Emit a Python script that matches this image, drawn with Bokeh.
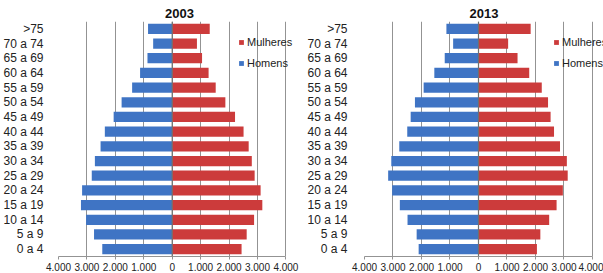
from bokeh.plotting import figure
from bokeh.layouts import row
from bokeh.models import (FactorRange, Range1d, FixedTicker, Span, Legend, LegendItem,
                          ColumnDataSource)
from bokeh.embed import file_html
from bokeh.resources import INLINE

ages = ["0 a 4", "5 a 9", "10 a 14", "15 a 19", "20 a 24", "25 a 29", "30 a 34",
        "35 a 39", "40 a 44", "45 a 49", "50 a 54", "55 a 59", "60 a 64",
        "65 a 69", "70 a 74", ">75"]

homens_2003 = [2460, 2750, 3030, 3210, 3170, 2830, 2720, 2520, 2370, 2060, 1780,
               1410, 1130, 870, 670, 850]
mulheres_2003 = [2440, 2620, 2880, 3170, 3110, 2900, 2800, 2690, 2510, 2210, 1870,
                 1530, 1280, 1050, 870, 1320]

homens_2013 = [2100, 2170, 2490, 2760, 3030, 3170, 3060, 2780, 2500, 2380, 2230,
               1925, 1550, 1185, 890, 1126]
mulheres_2013 = [2050, 2170, 2480, 2740, 2960, 3130, 3100, 2860, 2650, 2530, 2440,
                 2220, 1780, 1370, 1040, 1830]

tick_values = [-4000, -3000, -2000, -1000, 0, 1000, 2000, 3000, 4000]
tick_labels = ["4.000", "3.000", "2.000", "1.000", "0", "1.000", "2.000", "3.000", "4.000"]

BLUE = "#3f74c4"
RED = "#cc3b3b"
GRID = "#939393"
FONT = "Liberation Sans"


def pyramid(title, homens, mulheres, width, border_left, x_end, ylab_standoff,
            legend_x, title_offset):
    src = ColumnDataSource(dict(age=ages,
                                h=[-v for v in homens],
                                m=mulheres,
                                z=[0] * len(ages)))
    p = figure(width=width, height=273, y_range=FactorRange(factors=ages, range_padding=0),
               x_range=Range1d(-4000, x_end), output_backend="svg",
               toolbar_location=None, min_border_left=border_left,
               min_border_right=0, min_border_top=21, min_border_bottom=17)
    p.title.text = title
    p.title.align = "center"
    p.title.text_font = FONT
    p.title.text_font_size = "13px"
    p.title.text_font_style = "bold"
    p.title.text_color = "#111111"
    p.title.standoff = 7
    p.title.offset = title_offset
    p.outline_line_color = None
    p.background_fill_color = "white"

    rh = p.hbar(y="age", left="h", right="z", height=0.7, source=src,
                fill_color=BLUE, line_color=None)
    rm = p.hbar(y="age", left="z", right="m", height=0.7, source=src,
                fill_color=RED, line_color=None)

    p.xaxis.ticker = FixedTicker(ticks=tick_values)
    p.xaxis.bounds = (-4000, 4000)
    p.xaxis.major_label_overrides = {v: l for v, l in zip(tick_values, tick_labels)}
    p.xaxis.axis_line_color = GRID
    p.xaxis.major_tick_line_color = GRID
    p.xaxis.major_tick_out = 3
    p.xaxis.major_tick_in = 0
    p.xaxis.minor_tick_line_color = None
    p.xaxis.major_label_standoff = 3
    p.xaxis.major_label_text_font = FONT
    p.xaxis.major_label_text_font_size = "10px"
    p.xaxis.major_label_text_color = "#222222"

    p.yaxis.axis_line_color = None
    p.yaxis.major_tick_line_color = None
    p.yaxis.major_label_standoff = ylab_standoff
    p.yaxis.major_label_text_font = FONT
    p.yaxis.major_label_text_font_size = "12px"
    p.yaxis.major_label_text_color = "#222222"

    p.ygrid.grid_line_color = None
    p.xgrid.ticker = FixedTicker(ticks=tick_values)
    p.xgrid.grid_line_color = GRID
    p.xgrid.grid_line_width = 1

    p.add_layout(Span(location=0, dimension="height", line_color="#707070", line_width=1.2))

    legend = Legend(items=[LegendItem(label="Mulheres", renderers=[rm]),
                           LegendItem(label="Homens", renderers=[rh])],
                    location=(legend_x, 187), margin=0, padding=0, spacing=9,
                    label_height=12, glyph_height=6, glyph_width=6, label_standoff=3,
                    border_line_color=None, background_fill_alpha=0,
                    label_text_font=FONT, label_text_font_size="11px",
                    label_text_color="#222222")
    p.add_layout(legend)
    return p


p1 = pyramid("2003", homens_2003, mulheres_2003, 300, 51, 4513, 9, 180, -7)
p2 = pyramid("2013", homens_2013, mulheres_2013, 303, 64, 4386, 11, 189, 2)
layout = row(p1, p2, spacing=0)

open("out.html", "w").write(file_html(layout, INLINE))
